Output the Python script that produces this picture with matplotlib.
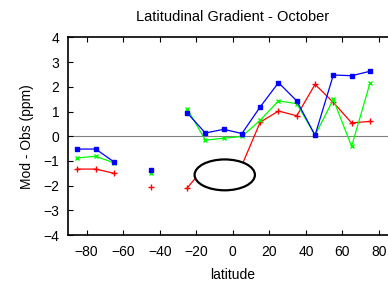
import numpy as np
import matplotlib

matplotlib.use('Agg')
import matplotlib.pyplot as plt
from matplotlib.patches import Ellipse

plt.rcParams['font.family'] = ['Liberation Sans', 'DejaVu Sans']

lat = [-85, -75, -65, -55, -45, -35, -25, -15, -5, 5, 15, 25, 35, 45, 55, 65, 75]
nan = np.nan
blue = [-0.52, -0.52, -1.04, nan, -1.35, nan, 0.95, 0.13, 0.28, 0.11, 1.19, 2.17, 1.43, 0.04, 2.48, 2.45, 2.63]
green = [-0.88, -0.81, -1.08, nan, -1.48, nan, 1.12, -0.16, -0.08, -0.01, 0.65, 1.43, 1.32, 0.04, 1.49, -0.41, 2.14]
red = [-1.33, -1.33, -1.50, nan, -2.06, nan, -2.10, -1.22, -1.30, -1.17, 0.57, 1.02, 0.83, 2.10, 1.37, 0.54, 0.60]

fig = plt.figure(figsize=(3.88, 2.81), dpi=100)
# axes run a bit past the right edge, like the original (cropped)
ax = fig.add_axes([0.176, 0.1637, 0.848, 0.703])

ax.axhline(0, color='#808080', linewidth=0.8, zorder=1)
ax.plot(lat, red, color='red', marker='+', markersize=4, markeredgewidth=1, linewidth=0.9)
ax.plot(lat, green, color='#00ff00', marker='x', markersize=3.5, markeredgewidth=1, linewidth=0.9)
ax.plot(lat, blue, color='blue', marker='s', markersize=3, linewidth=0.9)

# highlight ellipse, white inside so it covers the red points
ax.add_patch(Ellipse((-4.4, -1.565), 33.0, 1.25, facecolor='white', edgecolor='black',
                     linewidth=1.6, zorder=5))

ax.set_xlim(-90, 90)
ax.set_ylim(-4, 4)
ax.set_xticks(range(-80, 81, 20))
ax.set_yticks(range(-4, 5))
ax.tick_params(direction='in', top=True, right=True, length=3.5, labelsize=10, width=0.8)
ax.tick_params(axis='x', pad=7.5)
ax.tick_params(axis='y', pad=6.5)
for s in ax.spines.values():
    s.set_linewidth(1.2)

ax.set_xlabel('latitude', fontsize=10, labelpad=6)
ax.set_ylabel('Mod - Obs (ppm)', fontsize=10, labelpad=6.5)
ax.set_title('Latitudinal Gradient - October', fontsize=10.5, pad=12)

fig.savefig('out.png', dpi=100)
